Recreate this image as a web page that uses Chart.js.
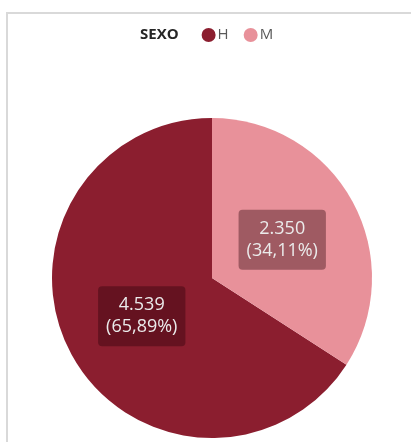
<!DOCTYPE html>
<html>
<head>
<meta charset="utf-8">
<script src="https://cdn.jsdelivr.net/npm/chart.js@4"></script>
<style>
  html, body { margin: 0; padding: 0; background: #fff; }
  #wrap { width: 411px; height: 442px; }
</style>
</head>
<body>
<div id="wrap"><canvas id="pieChart" width="411" height="442"></canvas></div>
<script>
// Data
const legendTitle = 'SEXO';
const categories = ['H', 'M'];
const values = [4539, 2350];
const colors = ['#8B1E2F', '#E8919A'];

const total = values.reduce((a, b) => a + b, 0);

// Format numbers like 4.539 and 65,89%
function fmtNum(v) {
    return v.toLocaleString('de-DE');
}
function fmtPct(v) {
    return (v / total * 100).toFixed(2).replace('.', ',') + '%';
}

// Frame lines (top + left)
const framePlugin = {
    id: 'frame',
    beforeDraw(chart) {
        const ctx = chart.ctx;
        ctx.save();
        ctx.strokeStyle = '#d9d9d9';
        ctx.lineWidth = 2;
        ctx.beginPath();
        ctx.moveTo(411, 13);
        ctx.lineTo(7, 13);
        ctx.lineTo(7, 442);
        ctx.stroke();
        ctx.restore();
    }
};

// Inline legend: title + dots
const legendPlugin = {
    id: 'inlineLegend',
    afterDraw(chart) {
        const ctx = chart.ctx;
        const y = 35;
        ctx.save();
        ctx.textBaseline = 'middle';
        ctx.font = 'bold 15px "Open Sans"';
        ctx.fillStyle = '#262626';
        ctx.fillText(legendTitle, 140, y);
        let x = 140 + ctx.measureText(legendTitle).width + 30;
        ctx.font = '15px "Open Sans"';
        categories.forEach((c, i) => {
            ctx.fillStyle = colors[i];
            ctx.beginPath();
            ctx.arc(x, y, 7, 0, Math.PI * 2);
            ctx.fill();
            ctx.fillStyle = '#595959';
            ctx.fillText(c, x + 9, y);
            x += 9 + ctx.measureText(c).width + 22;
        });
        ctx.restore();
    }
};

// Value labels in dark boxes
const labelPlugin = {
    id: 'sliceLabels',
    afterDatasetsDraw(chart) {
        const ctx = chart.ctx;
        const meta = chart.getDatasetMeta(0);
        ctx.save();
        ctx.font = '18px "Open Sans"';
        ctx.textAlign = 'center';
        ctx.textBaseline = 'middle';
        meta.data.forEach((arc, i) => {
            const mid = (arc.startAngle + arc.endAngle) / 2;
            const r = arc.outerRadius / 2;
            const cx = arc.x + Math.cos(mid) * r;
            const cy = arc.y + Math.sin(mid) * r;
            const l1 = fmtNum(values[i]);
            const l2 = '(' + fmtPct(values[i]) + ')';
            const w = Math.max(ctx.measureText(l1).width, ctx.measureText(l2).width) + 16;
            const h = 60;
            ctx.fillStyle = 'rgba(40,0,8,0.38)';
            ctx.beginPath();
            ctx.roundRect(cx - w / 2, cy - h / 2, w, h, 4);
            ctx.fill();
            ctx.fillStyle = '#ebebeb';
            ctx.fillText(l1, cx, cy - 11);
            ctx.fillText(l2, cx, cy + 11);
        });
        ctx.restore();
    }
};

new Chart(document.getElementById('pieChart'), {
    type: 'pie',
    data: {
        labels: categories,
        datasets: [{
            data: values,
            backgroundColor: colors,
            borderWidth: 0
        }]
    },
    options: {
        responsive: false,
        animation: false,
        rotation: values[1] / total * 360,
        layout: {
            padding: { left: 52, right: 39, top: 118, bottom: 4 }
        },
        plugins: {
            legend: { display: false },
            tooltip: { enabled: false }
        }
    },
    plugins: [framePlugin, legendPlugin, labelPlugin]
});
</script>
</body>
</html>
